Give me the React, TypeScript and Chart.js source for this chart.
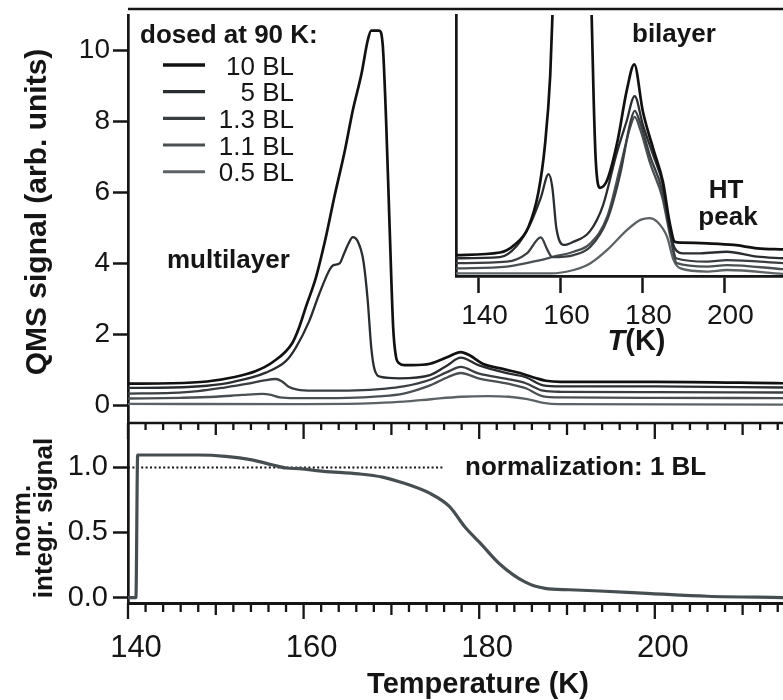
import React, { useEffect, useRef } from 'react';
import { Chart, registerables } from 'chart.js';

Chart.register(...registerables);

const INK = '#151515';
const FF = '"Liberation Sans", Arial, Helvetica, sans-serif';

// ---------- main panel: QMS signal ----------
const seriesNames = ['10 BL', '5 BL', '1.3 BL', '1.1 BL', '0.5 BL'];

const t10 = [140, 145, 149, 152, 154.5, 156.5, 158.7, 159.5, 160.3, 161.4, 162.5, 163.5, 164.7, 165.6, 166.6, 167.3, 167.7, 168.6, 169.0, 169.4, 169.8, 170.2, 170.5, 170.9, 171.5, 172.4, 174.4, 176.4, 177.9, 178.9, 180.4, 182.9, 184.9, 186.4, 187.6, 189.3, 200, 214.6];
const v10 = [0.61, 0.62, 0.67, 0.79, 0.96, 1.22, 1.75, 2.2, 2.8, 3.6, 4.7, 5.87, 7.18, 8.31, 9.35, 10.28, 10.56, 10.56, 10.19, 8.0, 5.0, 2.2, 1.4, 1.18, 1.13, 1.13, 1.17, 1.36, 1.5, 1.41, 1.17, 1.01, 0.89, 0.77, 0.69, 0.66, 0.66, 0.62];

const t5 = [140, 145, 149, 152, 155.7, 158, 159.1, 160.6, 161.8, 162.96, 163.4, 164.1, 164.6, 165.1, 165.6, 166.1, 166.8, 167.3, 167.7, 168.1, 168.8, 170.9, 174.4, 176.4, 177.9, 179.9, 183.4, 185.3, 187.3, 189.3, 200, 214.6];
const v5 = [0.49, 0.5, 0.55, 0.66, 0.92, 1.25, 1.62, 2.35, 3.15, 3.82, 3.95, 4.0, 4.27, 4.55, 4.74, 4.65, 4.08, 2.96, 1.64, 0.99, 0.8, 0.76, 0.85, 1.13, 1.34, 1.13, 0.89, 0.79, 0.56, 0.53, 0.53, 0.5];

const t13 = [140, 145, 148, 151, 153.5, 155.5, 156.8, 157.5, 158.3, 159.3, 161, 166, 169, 171.4, 174.4, 176.4, 177.9, 179.9, 183.4, 185.3, 187.3, 189.3, 200, 214.6];
const v13 = [0.33, 0.35, 0.4, 0.5, 0.6, 0.7, 0.74, 0.68, 0.52, 0.44, 0.41, 0.42, 0.46, 0.53, 0.72, 0.94, 1.08, 0.9, 0.73, 0.62, 0.41, 0.38, 0.37, 0.36];

const t11 = [140, 146, 150, 153, 155.3, 156.3, 157.3, 159, 165, 168.5, 171.4, 174.4, 176.4, 177.9, 179.9, 183.4, 185.3, 187.3, 189.3, 200, 214.6];
const v11 = [0.19, 0.21, 0.24, 0.29, 0.32, 0.29, 0.22, 0.2, 0.21, 0.25, 0.33, 0.56, 0.79, 0.91, 0.76, 0.6, 0.48, 0.25, 0.22, 0.21, 0.2];

const t05 = [140, 160, 165, 168, 171.4, 174.5, 177.9, 181, 183.4, 185.5, 187.3, 189, 214.6];
const v05 = [0.04, 0.03, 0.04, 0.06, 0.1, 0.17, 0.24, 0.26, 0.24, 0.17, 0.07, 0.03, 0.02];

const mainYTicks = [0, 2, 4, 6, 8, 10];

// ---------- inset: bilayer region ----------
const i10T = [134.5, 145.2, 148.8, 152.1, 154.6, 156.2, 157.5, 158.1, 160, 164, 166.5, 167.6, 168.1, 168.6, 169.6, 171.4, 173.8, 176.2, 178.0, 180.1, 182.6, 185.0, 186.6, 187.9, 189.3, 195.8, 202.3, 208, 214.3];
const i10V = [0.8, 0.9, 1.2, 1.85, 3.2, 5.0, 7.7, 10.3, 20, 30, 20, 10, 6.74, 4.44, 3.38, 3.68, 5.08, 7.13, 8.11, 6.3, 4.89, 3.61, 2.08, 1.31, 1.28, 1.25, 1.19, 1.06, 1.02];

const i5T = [134.5, 145.2, 149.3, 152.5, 155.2, 157.1, 158.0, 159.0, 160.8, 163.0, 167.1, 170.4, 173.6, 176.1, 178.1, 180.1, 182.6, 185.0, 186.6, 187.9, 190.0, 194.1, 200.6, 208, 214.3];
const i5V = [0.68, 0.72, 1.15, 1.95, 3.0, 3.9, 3.4, 1.83, 1.19, 1.3, 1.7, 2.72, 4.64, 5.91, 6.89, 5.79, 4.64, 3.49, 1.83, 1.06, 0.87, 0.87, 0.93, 0.74, 0.68];

const i13T = [134.5, 146.9, 151.8, 155.2, 156.8, 158.0, 163.2, 167.3, 171.4, 174.6, 177.0, 178.1, 179.5, 181.9, 184.8, 186.8, 188.2, 195.8, 200.6, 214.3];
const i13V = [0.49, 0.55, 0.87, 1.48, 1.0, 0.72, 0.8, 1.12, 2.15, 3.93, 5.85, 6.33, 5.85, 4.57, 3.3, 1.64, 0.68, 0.55, 0.61, 0.49];

const i11T = [134.5, 146.9, 155.1, 158.3, 163.2, 167.3, 171.4, 174.6, 177.0, 178.1, 179.5, 181.9, 184.8, 186.8, 188.4, 195.8, 200.6, 214.3];
const i11V = [0.29, 0.36, 0.61, 0.74, 0.93, 1.25, 2.27, 4.19, 5.7, 6.1, 5.6, 4.31, 3.04, 1.51, 0.49, 0.36, 0.42, 0.26];

const i05T = [134.5, 157.5, 163.2, 167.3, 171.4, 176.2, 179.5, 181.7, 183.6, 186, 187.6, 189.3, 195.8, 200.6, 214.3];
const i05V = [0.1, 0.1, 0.23, 0.49, 1.0, 1.76, 2.15, 2.22, 2.08, 1.51, 0.61, 0.29, 0.17, 0.23, 0.08];

const insetXTicks = [140, 160, 180, 200];

// ---------- bottom panel: normalized integrated signal ----------
const nT = [140, 140.9, 141.1, 148, 151.1, 154.1, 156.4, 158, 159.5, 162.3, 166.3, 169, 170.9, 174.4, 176.6, 178.4, 180.1, 182.3, 185.2, 187.5, 190.3, 193.7, 199.6, 206, 214.6];
const nV = [0, 0, 1.095, 1.095, 1.085, 1.058, 1.02, 0.995, 0.99, 0.97, 0.95, 0.925, 0.89, 0.8, 0.7, 0.54, 0.42, 0.26, 0.12, 0.07, 0.06, 0.05, 0.03, 0.01, 0.0];
const normT = [140, 176];
const normV = [1, 1];

const bottomXTicks = [140, 160, 180, 200];
const bottomYTicks = [0, 0.5, 1.0];

const colors = ['#111111', '#2a2d2f', '#3a3e41', '#4a4f52', '#5d6265'];
const widths = [2.7, 2.3, 2.3, 2.3, 2.3];

function pts(t: number[], v: number[]) {
  return t.map((x, i) => ({ x, y: v[i] }));
}

function lineSet(label: string, t: number[], v: number[], i: number) {
  return {
    label,
    data: pts(t, v),
    borderColor: colors[i],
    borderWidth: widths[i],
    pointRadius: 0,
    fill: false,
    cubicInterpolationMode: 'monotone' as const,
  };
}

const mainDecor = {
  id: 'mainDecor',
  afterDraw(chart: any) {
    const { ctx, chartArea: a } = chart;
    ctx.save();
    ctx.strokeStyle = INK;
    ctx.lineWidth = 2.3;
    ctx.beginPath();
    ctx.moveTo(a.left, a.top - 6);
    ctx.lineTo(a.right, a.top - 6);
    ctx.stroke();

    ctx.fillStyle = INK;
    ctx.textBaseline = 'alphabetic';
    ctx.font = `bold 26px ${FF}`;
    ctx.textAlign = 'left';
    ctx.fillText('dosed at 90 K:', 140, 43);
    ctx.fillText('multilayer', 167, 268);

    chart.data.datasets.forEach((ds: any, i: number) => {
      const y = 65 + i * 26.67;
      ctx.strokeStyle = ds.borderColor;
      ctx.lineWidth = ds.borderWidth + 0.8;
      ctx.beginPath();
      ctx.moveTo(163, y);
      ctx.lineTo(205, y);
      ctx.stroke();
      ctx.font = `26px ${FF}`;
      ctx.textAlign = 'right';
      ctx.fillText(ds.label, 294, y + 9.5);
    });

    ctx.font = `bold 30px ${FF}`;
    ctx.textAlign = 'center';
    ctx.translate(46, 212);
    ctx.rotate(-Math.PI / 2);
    ctx.fillText('QMS signal (arb. units)', 0, 0);
    ctx.restore();
  },
};

const insetDecor = {
  id: 'insetDecor',
  afterDraw(chart: any) {
    const { ctx } = chart;
    ctx.save();
    ctx.fillStyle = INK;
    ctx.textBaseline = 'alphabetic';
    ctx.font = `bold 26px ${FF}`;
    ctx.textAlign = 'left';
    ctx.fillText('bilayer', 232, 42);
    ctx.textAlign = 'center';
    ctx.fillText('HT', 326, 198);
    ctx.fillText('peak', 328, 225);

    const f1 = `italic bold 29px ${FF}`;
    const f2 = `bold 29px ${FF}`;
    ctx.font = f1;
    const w1 = ctx.measureText('T').width;
    ctx.font = f2;
    const w2 = ctx.measureText('(K)').width;
    const x0 = 236.5 - (w1 + w2) / 2;
    ctx.textAlign = 'left';
    ctx.font = f1;
    ctx.fillText('T', x0, 350);
    ctx.font = f2;
    ctx.fillText('(K)', x0 + w1, 350);
    ctx.restore();
  },
};

function drawMinorTicks(ctx: any, scale: any, y: number, lens: number[]) {
  const lo = Math.ceil(scale.min / 2) * 2;
  for (let t = lo; t <= scale.max; t += 2) {
    const px = scale.getPixelForValue(t);
    const len = t % 20 === 0 ? lens[2] : t % 10 === 0 ? lens[1] : lens[0];
    ctx.moveTo(px, y);
    ctx.lineTo(px, y + len);
  }
}

const bottomDecor = {
  id: 'bottomDecor',
  afterDraw(chart: any) {
    const { ctx, chartArea: a } = chart;
    const xs = chart.scales.x;
    ctx.save();
    ctx.strokeStyle = INK;
    ctx.lineWidth = 2.6;
    ctx.beginPath();
    ctx.moveTo(a.left - 1, a.top);
    ctx.lineTo(a.right, a.top);
    ctx.stroke();

    ctx.lineWidth = 2.3;
    ctx.beginPath();
    drawMinorTicks(ctx, xs, a.top, [7, 12, 16]);
    drawMinorTicks(ctx, xs, a.bottom, [9, 12, 16]);
    ctx.stroke();

    ctx.fillStyle = INK;
    ctx.textBaseline = 'alphabetic';
    ctx.font = `bold 26px ${FF}`;
    ctx.textAlign = 'left';
    ctx.fillText('normalization: 1 BL', 465, 60);

    ctx.font = `bold 29px ${FF}`;
    ctx.textAlign = 'center';
    ctx.fillText('Temperature (K)', 478, 278);

    ctx.font = `bold 26px ${FF}`;
    ctx.save();
    ctx.translate(30, 106);
    ctx.rotate(-Math.PI / 2);
    ctx.fillText('norm.', 0, 0);
    ctx.restore();
    ctx.save();
    ctx.translate(52, 103);
    ctx.rotate(-Math.PI / 2);
    ctx.fillText('integr. signal', 0, 0);
    ctx.restore();
    ctx.restore();
  },
};

function useChart(ref: React.RefObject<HTMLCanvasElement>, make: () => any) {
  useEffect(() => {
    if (!ref.current) return;
    const chart = new Chart(ref.current, make());
    return () => chart.destroy();
  }, []);
}

export default function App() {
  const mainRef = useRef<HTMLCanvasElement>(null);
  const insetRef = useRef<HTMLCanvasElement>(null);
  const bottomRef = useRef<HTMLCanvasElement>(null);

  useEffect(() => {
    document.body.style.margin = '0';
    document.body.style.background = '#ffffff';
  }, []);

  useChart(mainRef, () => ({
    type: 'line',
    data: {
      datasets: [
        lineSet(seriesNames[0], t10, v10, 0),
        lineSet(seriesNames[1], t5, v5, 1),
        lineSet(seriesNames[2], t13, v13, 2),
        lineSet(seriesNames[3], t11, v11, 3),
        lineSet(seriesNames[4], t05, v05, 4),
      ],
    },
    options: {
      responsive: false,
      animation: false,
      events: [],
      layout: { padding: { top: 15, bottom: 2, left: 0, right: 0 } },
      plugins: { legend: { display: false }, tooltip: { enabled: false } },
      scales: {
        x: { type: 'linear', display: false, min: 140, max: 214.6 },
        y: {
          type: 'linear',
          min: -0.5,
          max: 11,
          afterBuildTicks: (s: any) => { s.ticks = mainYTicks.map((value) => ({ value })); },
          afterFit: (s: any) => { s.width = 128; s.paddingTop = 0; s.paddingBottom = 0; },
          ticks: { color: INK, font: { size: 28, family: FF }, padding: 3, autoSkip: false, callback: (v: any) => String(v) },
          grid: { drawOnChartArea: false, drawTicks: true, tickLength: 15, tickWidth: 2.5, tickColor: INK },
          border: { display: true, color: INK, width: 2.7 },
        },
      },
    },
    plugins: [mainDecor],
  }));

  useChart(insetRef, () => ({
    type: 'line',
    data: {
      datasets: [
        lineSet(seriesNames[0], i10T, i10V, 0),
        lineSet(seriesNames[1], i5T, i5V, 1),
        lineSet(seriesNames[2], i13T, i13V, 2),
        lineSet(seriesNames[3], i11T, i11V, 3),
        lineSet(seriesNames[4], i05T, i05V, 4),
      ],
    },
    options: {
      responsive: false,
      animation: false,
      events: [],
      layout: { padding: { top: 15, bottom: 0, left: 0, right: 0 } },
      plugins: { legend: { display: false }, tooltip: { enabled: false } },
      scales: {
        x: {
          type: 'linear',
          min: 134.5,
          max: 214.3,
          afterBuildTicks: (s: any) => { s.ticks = insetXTicks.map((value) => ({ value })); },
          afterFit: (s: any) => { s.height = 94; s.paddingLeft = 0; s.paddingRight = 0; },
          ticks: { color: INK, font: { size: 28, family: FF }, padding: 6, labelOffset: 6, maxRotation: 0, autoSkip: false, callback: (v: any) => String(v) },
          grid: { drawOnChartArea: false, drawTicks: true, tickLength: 17, tickWidth: 2.5, tickColor: INK },
          border: { display: true, color: INK, width: 2.7 },
        },
        y: {
          type: 'linear',
          min: 0,
          max: 10,
          afterFit: (s: any) => { s.width = 56; s.paddingTop = 0; s.paddingBottom = 0; },
          ticks: { display: false },
          grid: { display: true, drawOnChartArea: false, drawTicks: false },
          border: { display: true, color: INK, width: 2.7 },
        },
      },
    },
    plugins: [insetDecor],
  }));

  useChart(bottomRef, () => ({
    type: 'line',
    data: {
      datasets: [
        {
          label: 'normalized integrated signal',
          data: pts(nT, nV),
          borderColor: '#474e52',
          borderWidth: 3.2,
          pointRadius: 0,
          fill: false,
          cubicInterpolationMode: 'monotone',
        },
        {
          label: 'normalization: 1 BL',
          data: pts(normT, normV),
          borderColor: INK,
          borderWidth: 2,
          borderDash: [2, 2.4],
          pointRadius: 0,
          fill: false,
        },
      ],
    },
    options: {
      responsive: false,
      animation: false,
      events: [],
      layout: { padding: { top: 8, bottom: 0, left: 0, right: 0 } },
      plugins: { legend: { display: false }, tooltip: { enabled: false } },
      scales: {
        x: {
          type: 'linear',
          min: 140,
          max: 214.6,
          afterBuildTicks: (s: any) => { s.ticks = bottomXTicks.map((value) => ({ value })); },
          afterFit: (s: any) => { s.height = 97; s.paddingLeft = 0; s.paddingRight = 0; },
          ticks: { color: INK, font: { size: 31, family: FF }, padding: 27, labelOffset: 8, maxRotation: 0, autoSkip: false, callback: (v: any) => String(v) },
          grid: { display: true, drawOnChartArea: false, drawTicks: false },
          border: { display: true, color: INK, width: 3 },
        },
        y: {
          type: 'linear',
          min: -0.042,
          max: 1.341,
          afterBuildTicks: (s: any) => { s.ticks = bottomYTicks.map((value) => ({ value })); },
          afterFit: (s: any) => { s.width = 128; s.paddingTop = 0; s.paddingBottom = 0; },
          ticks: { color: INK, font: { size: 29, family: FF }, padding: 5, autoSkip: false, callback: (v: any) => Number(v).toFixed(1) },
          grid: { drawOnChartArea: false, drawTicks: true, tickLength: 15, tickWidth: 2.5, tickColor: INK },
          border: { display: true, color: INK, width: 2.7 },
        },
      },
    },
    plugins: [bottomDecor],
  }));

  return (
    <div style={{ position: 'fixed', left: 0, top: 0, width: 783, height: 700, background: '#fff', overflow: 'hidden' }}>
      <canvas ref={mainRef} width={783} height={425} style={{ position: 'absolute', left: 0, top: 0, width: 783, height: 425 }} />
      <canvas ref={bottomRef} width={783} height={285} style={{ position: 'absolute', left: 0, top: 415, width: 783, height: 285 }} />
      <canvas ref={insetRef} width={383} height={370} style={{ position: 'absolute', left: 400, top: 0, width: 383, height: 370 }} />
    </div>
  );
}
